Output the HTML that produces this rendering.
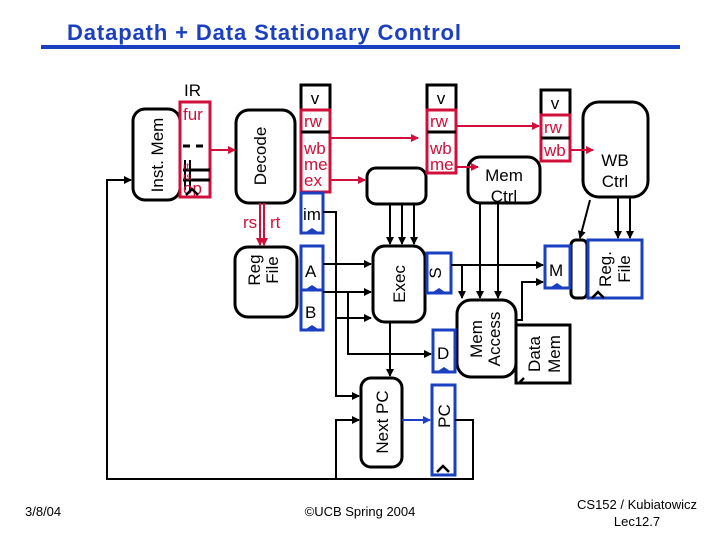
<!DOCTYPE html>
<html><head><meta charset="utf-8"><style>
html,body{margin:0;padding:0;background:#fff;}
svg{display:block;font-family:"Liberation Sans",Arial,sans-serif;}
</style></head><body>
<svg width="720" height="540" viewBox="0 0 720 540" xmlns="http://www.w3.org/2000/svg">
<defs>
<marker id="ak" markerWidth="8" markerHeight="8" refX="7" refY="4" orient="auto" markerUnits="userSpaceOnUse"><path d="M0,0 L8,4 L0,8 z" fill="#000"/></marker>
<marker id="ar" markerWidth="8" markerHeight="8" refX="7" refY="4" orient="auto" markerUnits="userSpaceOnUse"><path d="M0,0 L8,4 L0,8 z" fill="#d0103a"/></marker>
<marker id="ab" markerWidth="8" markerHeight="8" refX="7" refY="4" orient="auto" markerUnits="userSpaceOnUse"><path d="M0,0 L8,4 L0,8 z" fill="#1a3fc0"/></marker>
</defs>
<text x="67" y="40" font-size="22" font-weight="bold" fill="#1a3fc0" textLength="394">Datapath + Data Stationary Control</text>
<rect x="41" y="45" width="639" height="4" fill="#1a3fc0"/>

<g fill="none" stroke="#000" stroke-width="3">
<!-- Inst Mem -->
<rect x="133" y="109" width="47" height="91" rx="12"/>
<!-- Decode -->
<rect x="236" y="110" width="59" height="93" rx="13"/>
<!-- Reg File -->
<rect x="235" y="247" width="62" height="70" rx="13"/>
<!-- exec control box -->
<rect x="367" y="168" width="59" height="36" rx="9"/>
<!-- Exec -->
<rect x="373" y="246" width="52" height="76" rx="12"/>
<!-- Next PC -->
<rect x="361" y="378" width="41" height="89" rx="10"/>
<!-- Mem Ctrl -->
<rect x="468" y="157" width="72" height="46" rx="12"/>
<!-- Mem Access -->
<rect x="457" y="300" width="59" height="77" rx="14"/>
<!-- Data mem -->
<rect x="516" y="325" width="54" height="58" rx="0"/>
<!-- wall -->
<rect x="571" y="240" width="16" height="58" rx="5"/>
<!-- WB Ctrl -->
<rect x="583" y="102" width="65" height="95" rx="16"/>
</g>

<!-- v boxes -->
<g fill="#fff" stroke="#000" stroke-width="3">
<rect x="301" y="85" width="29" height="25"/>
<rect x="427" y="85" width="29" height="25"/>
<rect x="541" y="90" width="29" height="25"/>
</g>
<g font-size="17" text-anchor="middle">
<text x="315" y="104">v</text><text x="441" y="104">v</text><text x="555" y="109">v</text>
</g>

<!-- red boxes -->
<g fill="none" stroke="#d0103a" stroke-width="3">
<rect x="180" y="102" width="30" height="95"/>
<rect x="301" y="110" width="29" height="82"/>
<rect x="427" y="110" width="29" height="63"/>
<rect x="541" y="115" width="29" height="46"/>
</g>
<g stroke="#000" stroke-width="3">
<line x1="301" y1="132" x2="330" y2="132"/>
<line x1="427" y1="132" x2="456" y2="132"/>
<line x1="541" y1="138" x2="570" y2="138"/>
<line x1="183" y1="146" x2="190" y2="146"/><line x1="196" y1="146" x2="203" y2="146"/>
<line x1="183" y1="170" x2="210" y2="170"/><line x1="183" y1="180" x2="210" y2="180"/>
<line x1="185" y1="160" x2="185" y2="190" stroke-width="2"/><line x1="190" y1="160" x2="190" y2="190" stroke-width="2"/>
</g>
<g fill="#d0103a" font-size="17">
<text x="183" y="120">fur</text>
<text x="183" y="170" font-size="10">rt</text>
<text x="183" y="180" font-size="10">rs</text>
<text x="183" y="194">op</text>
<text x="304" y="127">rw</text><text x="304" y="154">wb</text><text x="304" y="170">me</text><text x="304" y="186">ex</text>
<text x="430" y="127">rw</text><text x="430" y="154">wb</text><text x="430" y="170">me</text>
<text x="544" y="133">rw</text><text x="544" y="156">wb</text>
<text x="243" y="228">rs</text><text x="270" y="228">rt</text>
</g>
<text x="184" y="96" font-size="17">IR</text>

<!-- red connectors -->
<g stroke="#d0103a" stroke-width="2" fill="none">
<line x1="210" y1="150" x2="235" y2="150" marker-end="url(#ar)"/>
<line x1="260" y1="203" x2="260" y2="245" marker-end="url(#ar)"/>
<line x1="264" y1="203" x2="264" y2="245" marker-end="url(#ar)"/>
<line x1="330" y1="138" x2="418" y2="138" marker-end="url(#ar)"/>
<line x1="330" y1="180" x2="365" y2="180" marker-end="url(#ar)"/>
<line x1="456" y1="126" x2="539" y2="126" marker-end="url(#ar)"/>
<line x1="456" y1="167" x2="478" y2="167" marker-end="url(#ar)"/>
<line x1="570" y1="150" x2="593" y2="150" marker-end="url(#ar)"/>
</g>

<!-- blue boxes -->
<g fill="none" stroke="#1a3fc0" stroke-width="3">
<rect x="301" y="193" width="22" height="40"/>
<rect x="301" y="246" width="22" height="44"/>
<rect x="301" y="290" width="22" height="40"/>
<rect x="427" y="253" width="24" height="40"/>
<rect x="433" y="330" width="22" height="42"/>
<rect x="432" y="385" width="23" height="90"/>
<rect x="545" y="246" width="25" height="42"/>
<rect x="588" y="240" width="54" height="58"/>
</g>
<g fill="#1a3fc0">
<path d="M306,232 l6,-4 l6,4 z"/><path d="M306,289 l6,-4 l6,4 z"/><path d="M306,329 l6,-4 l6,4 z"/>
<path d="M433,292 l6,-4 l6,4 z"/><path d="M438,371 l6,-4 l6,4 z"/><path d="M551,287 l6,-4 l6,4 z"/>
</g>
<g font-size="17">
<text x="303" y="220">im</text><text x="305" y="277">A</text><text x="305" y="318">B</text>
<text x="437" y="359">D</text><text x="549" y="276">M</text>
</g>
<g fill="none" stroke="#000" stroke-width="2.5">
<path d="M437,472 l6,-6 l6,6"/><path d="M592,298 l6,-6 l6,6"/><path d="M519,383 l5,-5"/>
<path d="M186,195 l6,-6 l6,6"/>
</g>

<!-- black connectors -->
<g stroke="#000" stroke-width="2" fill="none">
<path d="M323,212 H336 V396 H359" marker-end="url(#ak)"/>
<path d="M336,318 H371" marker-end="url(#ak)"/>
<path d="M323,264 H371" marker-end="url(#ak)"/>
<path d="M323,292 H371" marker-end="url(#ak)"/>
<path d="M348,292 V354 H431" marker-end="url(#ak)"/>
<path d="M390,204 V244 M402,204 V244 M414,204 V244"/>
<path d="M390,204 V244" marker-end="url(#ak)"/><path d="M402,204 V244" marker-end="url(#ak)"/><path d="M414,204 V244" marker-end="url(#ak)"/>
<path d="M390,322 V376" marker-end="url(#ak)"/>
<path d="M455,420 H473 V479 H107 V180 H131" marker-end="url(#ak)"/>
<path d="M336,479 V420 H359" marker-end="url(#ak)"/>
<path d="M451,265 H543" marker-end="url(#ak)"/>
<path d="M462,265 V298" marker-end="url(#ak)"/>
<path d="M480,203 V298" marker-end="url(#ak)"/>
<path d="M498,203 V298" marker-end="url(#ak)"/>
<path d="M516,320 H522 V282 H543" marker-end="url(#ak)"/>
<path d="M590,200 L580,238" marker-end="url(#ak)"/>
<path d="M618,197 V238" marker-end="url(#ak)"/>
<path d="M630,197 V238" marker-end="url(#ak)"/>
</g>
<line x1="402" y1="420" x2="430" y2="420" stroke="#1a3fc0" stroke-width="2" marker-end="url(#ab)"/>

<!-- rotated labels -->
<g font-size="17" text-anchor="middle">
<text transform="translate(163,155) rotate(-90)">Inst. Mem</text>
<text transform="translate(266,156) rotate(-90)">Decode</text>
<text transform="translate(260,270) rotate(-90)">Reg</text>
<text transform="translate(278,270) rotate(-90)">File</text>
<text transform="translate(405,284) rotate(-90)">Exec</text>
<text transform="translate(388,422) rotate(-90)">Next PC</text>
<text transform="translate(450,416) rotate(-90)">PC</text>
<text transform="translate(441,273) rotate(-90)">S</text>
<text transform="translate(482,339) rotate(-90)">Mem</text>
<text transform="translate(500,339) rotate(-90)">Access</text>
<text transform="translate(540,354) rotate(-90)">Data</text>
<text transform="translate(560,354) rotate(-90)">Mem</text>
<text transform="translate(611,269) rotate(-90)">Reg.</text>
<text transform="translate(630,269) rotate(-90)">File</text>
<text x="504" y="181">Mem</text>
<text x="504" y="202">Ctrl</text>
<text x="615" y="166">WB</text>
<text x="615" y="187">Ctrl</text>
</g>

<g font-size="13">
<text x="25" y="516">3/8/04</text>
<text x="360" y="516" text-anchor="middle">©UCB Spring 2004</text>
<text x="637" y="509" text-anchor="middle">CS152 / Kubiatowicz</text>
<text x="637" y="526" text-anchor="middle">Lec12.7</text>
</g>
</svg>
</body></html>
